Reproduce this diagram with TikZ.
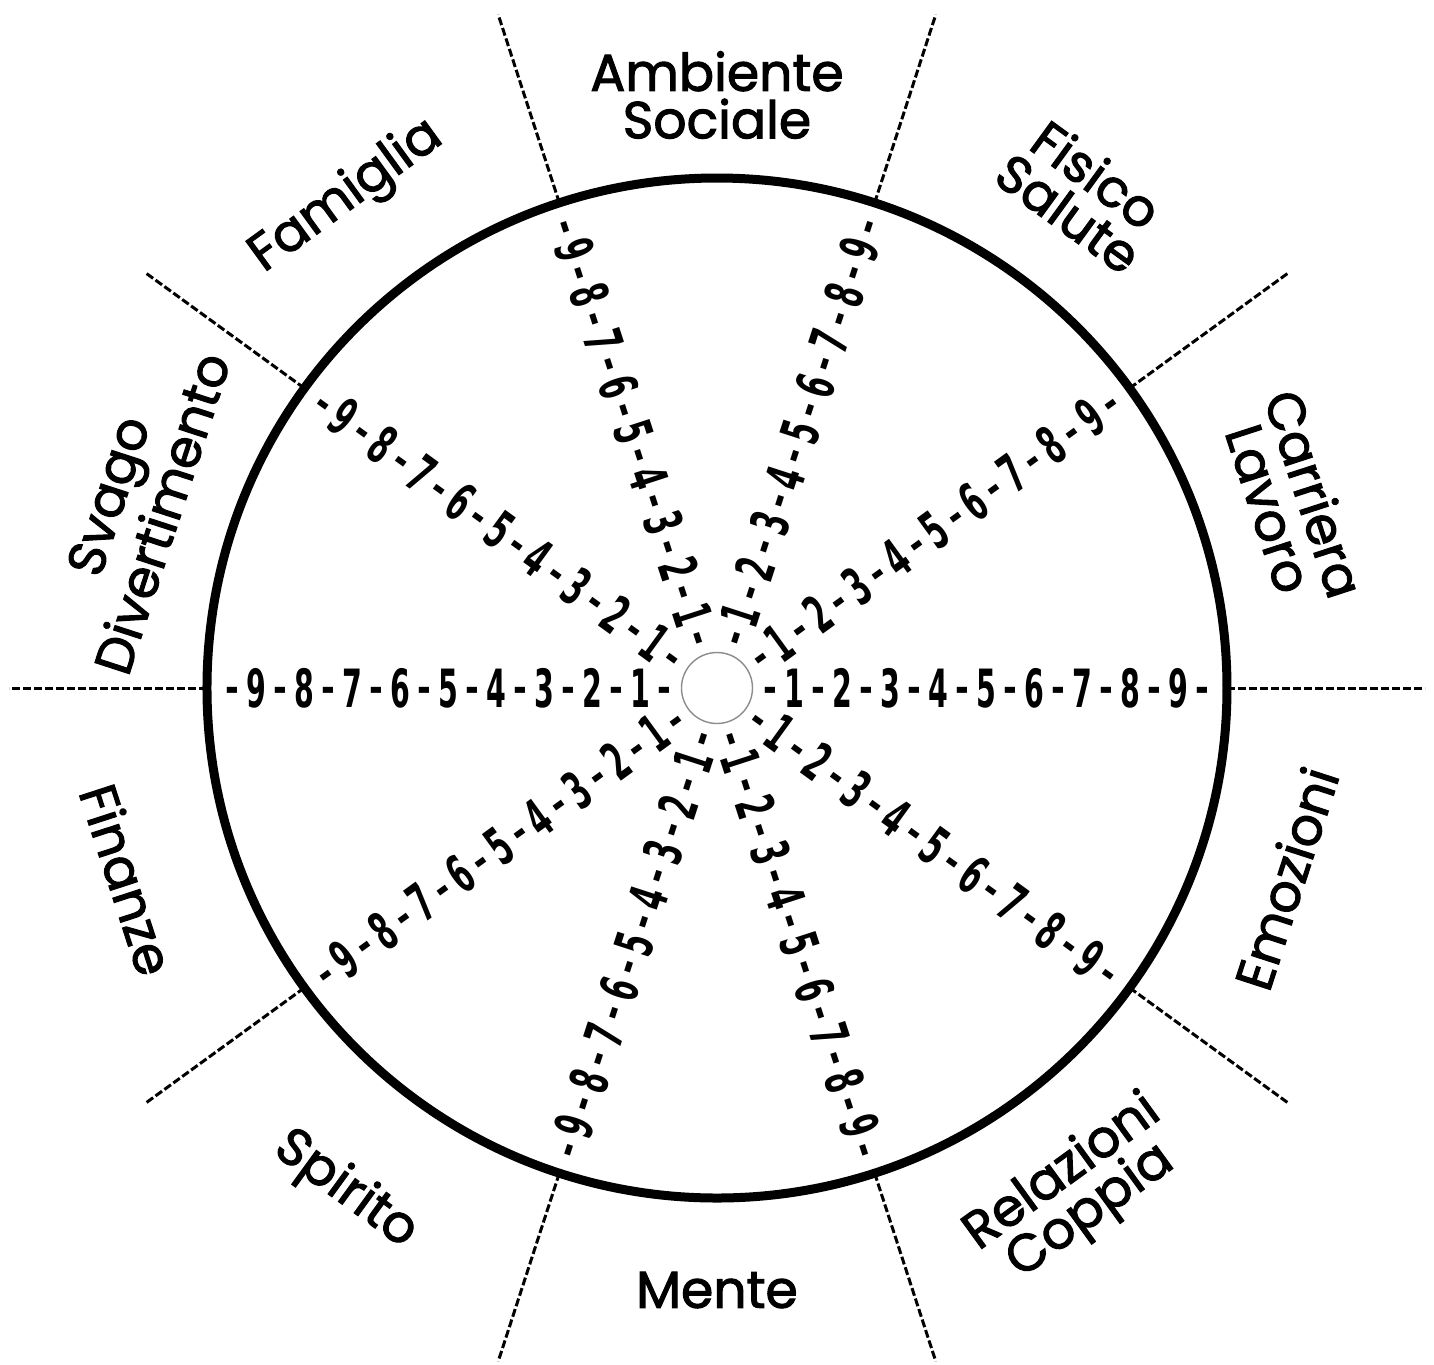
\documentclass[tikz,border=0pt]{standalone}
\usepackage{graphicx}
\usepackage{fontspec}
\setmainfont{Poppins}
\newfontfamily\labelfont{Poppins}[FakeBold=2]
\newfontfamily\scalefont{DejaVu Sans Condensed}

\begin{document}
\begin{tikzpicture}[x=1cm,y=1cm,
  lbl/.style={font=\labelfont\fontsize{14.8}{13.5}\selectfont, align=center, inner sep=0pt},
  num/.style={font=\scalefont\bfseries\fontsize{15}{15}\selectfont, inner sep=0pt, text height=10.9pt, text depth=0pt},
  spoke/.style={line width=0.03cm, dash pattern=on 0.08cm off 0.03cm}]
\useasboundingbox (-7.17,-6.76) rectangle (7.17,6.88);
\coordinate (c) at (0,0);

\draw[line width=0.09cm] (c) circle (5.10);
\draw[line width=0.4pt, black!45] (c) circle (0.355);

% spokes with the scales 1..9
\foreach \a/\r in {0/0,36/36,72/72,108/-72,144/-36,180/0,216/36,252/72,288/288,324/324}{
  \draw[spoke] (\a:5.10) -- (\a:7.08);
  \foreach \k in {1,...,9}
    \node[num, rotate=\r] (n\a-\k) at ({\a}:{0.29+0.48*\k}) {\scalebox{0.6}[1]{\k}};
  \foreach \j in {0,...,9}
    \node[num, rotate=\r] (d\a-\j) at ({\a}:{0.53+0.48*\j}) {\scalebox{0.7}[0.8]{\raisebox{1.6pt}{-}}};
}

% areas
\node[lbl, rotate=-72] (carriera) at (18:6.05) {Carriera\\Lavoro};
\node[lbl, rotate=-36] (fisico) at (53.5:6.15) {Fisico\\Salute};
\node[lbl] (ambiente) at (90:5.93) {Ambiente\\Sociale};
\node[lbl, rotate=36] (famiglia) at (127:6.15) {Famiglia};
\node[lbl, rotate=72] (svago) at (162.5:6.1) {Svago\\Divertimento};
\node[lbl, rotate=-72] (finanze) at (198:6.2) {Finanze};
\node[lbl, rotate=-36] (spirito) at (233.5:6.25) {Spirito};
\node[lbl] (mente) at (270:6.02) {Mente};
\node[lbl, rotate=36] (relazioni) at (305.5:6.2) {Relazioni\\Coppia};
\node[lbl, rotate=72] (emozioni) at (341.5:6.0) {Emozioni};
\end{tikzpicture}
\end{document}
